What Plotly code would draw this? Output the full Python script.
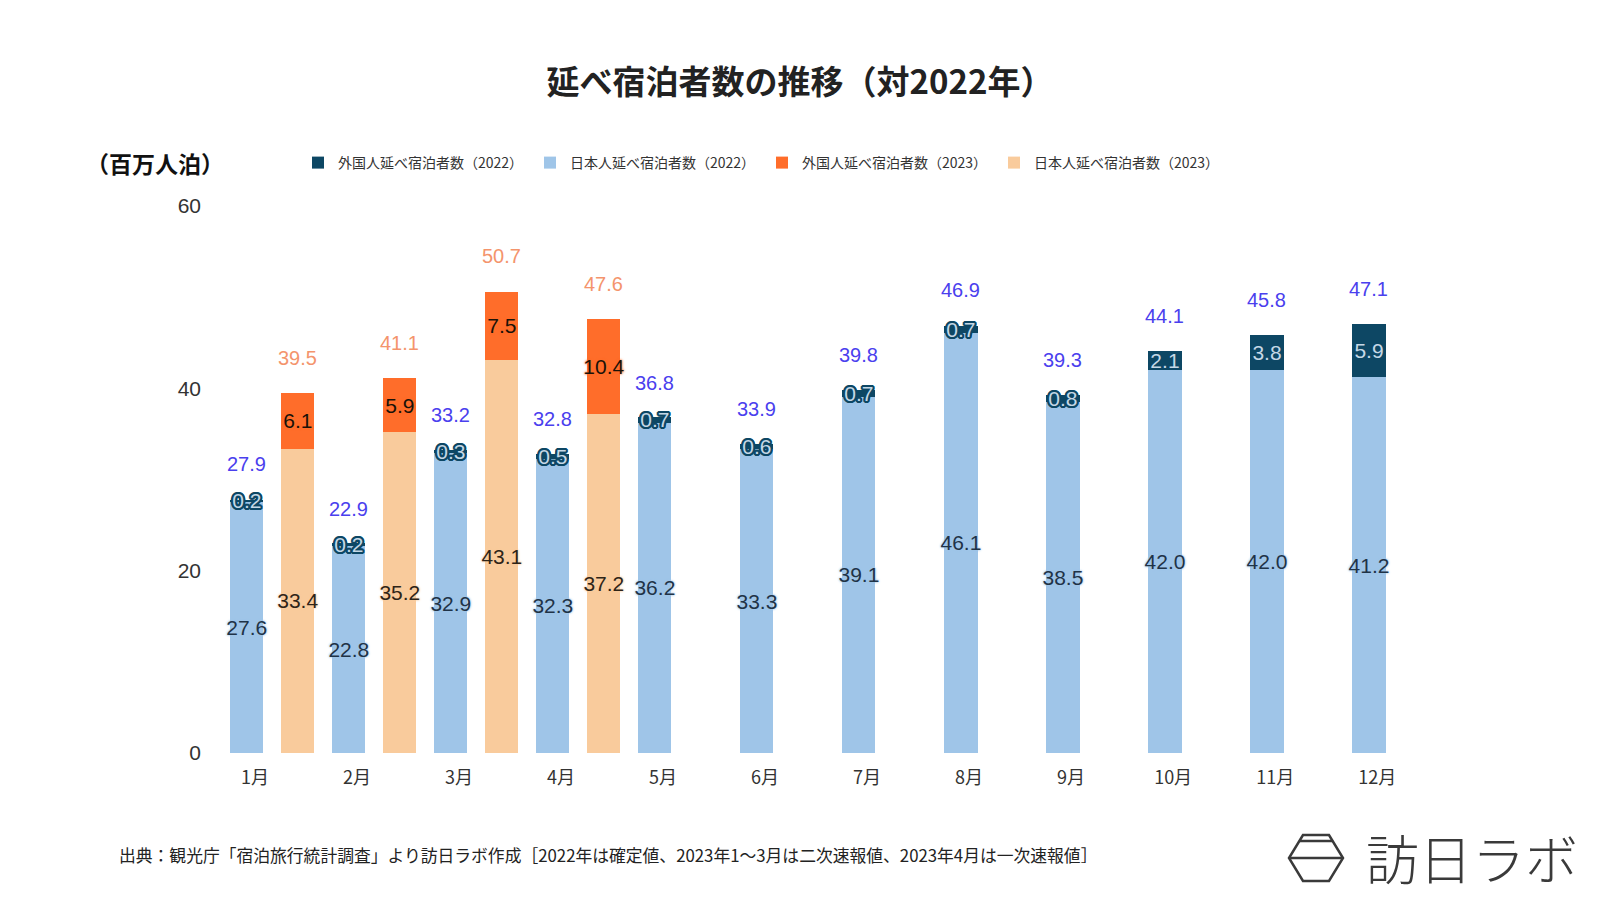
import numpy as np
import plotly.graph_objects as go

# ---------------- data ----------------
months = ["1月", "2月", "3月", "4月", "5月", "6月", "7月", "8月", "9月", "10月", "11月", "12月"]
jp_2022 = [27.6, 22.8, 32.9, 32.3, 36.2, 33.3, 39.1, 46.1, 38.5, 42.0, 42.0, 41.2]
fr_2022 = [0.2, 0.2, 0.3, 0.5, 0.7, 0.6, 0.7, 0.7, 0.8, 2.1, 3.8, 5.9]
total_2022 = [27.9, 22.9, 33.2, 32.8, 36.8, 33.9, 39.8, 46.9, 39.3, 44.1, 45.8, 47.1]
jp_2023 = [33.4, 35.2, 43.1, 37.2]
fr_2023 = [6.1, 5.9, 7.5, 10.4]
total_2023 = [39.5, 41.1, 50.7, 47.6]

names = ["外国人延べ宿泊者数（2022）", "日本人延べ宿泊者数（2022）",
         "外国人延べ宿泊者数（2023）", "日本人延べ宿泊者数（2023）"]
y_ticks = [0, 20, 40, 60]

title_text = "延べ宿泊者数の推移（対2022年）"
unit_text = "（百万人泊）"
source_text = "出典：観光庁「宿泊旅行統計調査」より訪日ラボ作成［2022年は確定値、2023年1～3月は二次速報値、2023年4月は一次速報値］"
logo_text = "訪日ラボ"

# ---------------- style ----------------
C_DARK = "#0d4764"
C_LBLUE = "#9fc5e8"
C_ORANGE = "#ff6d2a"
C_LORANGE = "#f9cb9c"
NUM_FONT = "Liberation Sans, Arial, sans-serif"
JP_FONT = "Noto Sans CJK JP, sans-serif"

W, H = 1600, 900
ML, MR, MT, MB = 206, 180, 206, 147
PW, PH = W - ML - MR, H - MT - MB


def px(x):
    return (x - ML) / PW


def py(y):
    return (H - MB - y) / PH


x22 = np.arange(1, len(months) + 1)
x23 = x22[:len(jp_2023)] + 0.5
bw = 0.325

outline = ", ".join(f"{a}px {b}px 0 {C_DARK}" for a, b in
                    [(-1, -1), (1, -1), (-1, 1), (1, 1), (0, 2), (0, -2), (2, 0), (-2, 0),
                     (2, 1), (-2, 1), (2, -1), (-2, -1), (1, 2), (-1, 2), (1, -2), (-1, -2)])

fig = go.Figure()
fig.add_trace(go.Bar(
    x=x22, y=jp_2022, width=bw, name=names[1], legendrank=2,
    marker=dict(color=C_LBLUE, line=dict(width=0)),
    text=[f"{v:.1f}" for v in jp_2022], textposition="inside", insidetextanchor="middle",
    constraintext="none", textangle=0,
    textfont=dict(family=NUM_FONT, size=21, color="#1f3347",
                  shadow=f"0 0 3px {C_LBLUE}, 0 0 2px {C_LBLUE}"),
))
fig.add_trace(go.Bar(
    x=x22, y=fr_2022, width=bw, name=names[0], legendrank=1,
    marker=dict(color=C_DARK, line=dict(width=0)),
    text=[f"{v:.1f}" for v in fr_2022], textposition="inside", insidetextanchor="middle",
    constraintext="none", textangle=0,
    textfont=dict(family=NUM_FONT, size=21, color="#c5d8e6", shadow=outline),
))
fig.add_trace(go.Bar(
    x=x23, y=jp_2023, width=bw, name=names[3], legendrank=4,
    marker=dict(color=C_LORANGE, line=dict(width=0)),
    text=[f"{v:.1f}" for v in jp_2023], textposition="inside", insidetextanchor="middle",
    constraintext="none", textangle=0,
    textfont=dict(family=NUM_FONT, size=21, color="#2e2418",
                  shadow=f"0 0 3px {C_LORANGE}, 0 0 2px {C_LORANGE}"),
))
fig.add_trace(go.Bar(
    x=x23, y=fr_2023, width=bw, name=names[2], legendrank=3,
    marker=dict(color=C_ORANGE, line=dict(width=0)),
    text=[f"{v:.1f}" for v in fr_2023], textposition="inside", insidetextanchor="middle",
    constraintext="none", textangle=0,
    textfont=dict(family=NUM_FONT, size=21, color="#1a1208",
                  shadow=f"0 0 3px {C_ORANGE}, 0 0 2px {C_ORANGE}"),
))

annotations = []
for xv, tv in zip(x22, total_2022):
    annotations.append(dict(x=xv, y=tv, xref="x", yref="y", text=f"{tv:.1f}", showarrow=False,
                            yshift=35, yanchor="middle",
                            font=dict(family=NUM_FONT, size=20, color="#4a40ee")))
for xv, tv in zip(x23, total_2023):
    annotations.append(dict(x=xv, y=tv, xref="x", yref="y", text=f"{tv:.1f}", showarrow=False,
                            yshift=35, yanchor="middle",
                            font=dict(family=NUM_FONT, size=20, color="#f4946c")))

annotations += [
    dict(x=px(226), y=py(163), xref="paper", yref="paper", xanchor="right", yanchor="middle",
         text=f"<b>{unit_text}</b>", showarrow=False,
         font=dict(family=JP_FONT, size=23, color="#111111")),
    dict(x=px(117), y=py(855), xref="paper", yref="paper", xanchor="left", yanchor="middle",
         text=source_text, showarrow=False,
         font=dict(family=JP_FONT, size=16.8, color="#222222")),
    dict(x=px(1364), y=py(857), xref="paper", yref="paper", xanchor="left", yanchor="middle",
         text=logo_text, showarrow=False,
         font=dict(family=JP_FONT, size=53, color="#3a3a3a", weight=200)),
]

# logo icon (hexagon)
hexpts = [(1303, 835), (1329, 835), (1343, 858), (1329, 881), (1303, 881), (1289, 858)]
path = "M " + " L ".join(f"{px(a):.5f},{py(b):.5f}" for a, b in hexpts) + " Z"
shapes = [
    dict(type="path", path=path, xref="paper", yref="paper",
         line=dict(color="#3a3a3a", width=2.5)),
    dict(type="line", x0=px(1289), x1=px(1343), y0=py(858), y1=py(858), xref="paper", yref="paper",
         line=dict(color="#3a3a3a", width=2.5)),
    dict(type="line", x0=px(1300), x1=px(1332), y0=py(841), y1=py(841), xref="paper", yref="paper",
         line=dict(color="#3a3a3a", width=2.5)),
]

fig.update_layout(
    width=W, height=H,
    margin=dict(l=ML, r=MR, t=MT, b=MB, autoexpand=False),
    paper_bgcolor="white", plot_bgcolor="white",
    barmode="stack",
    title=dict(text=f"<b>{title_text}</b>", x=0.5, xref="container", xanchor="center",
               y=1 - 82 / H, yref="container", yanchor="middle",
               font=dict(family=JP_FONT, size=33, color="#222222")),
    xaxis=dict(range=[0.6, 12.5], tickvals=x22 + 0.08, ticktext=months, showgrid=False,
               zeroline=False, showline=False, ticks="", ticklabelstandoff=12,
               tickfont=dict(family=JP_FONT, size=18, color="#333333")),
    yaxis=dict(range=[0, 60], tickvals=y_ticks, showgrid=False, zeroline=False, showline=False,
               ticks="", ticklabelstandoff=4,
               tickfont=dict(family=NUM_FONT, size=21, color="#333333")),
    legend=dict(orientation="h", x=298 / W, xref="container", xanchor="left",
                y=1 - 163 / H, yref="container", yanchor="middle",
                entrywidth=187, entrywidthmode="pixels", traceorder="normal",
                font=dict(family=JP_FONT, size=14, color="#333333"), bgcolor="rgba(0,0,0,0)"),
    annotations=annotations, shapes=shapes,
    showlegend=True,
)

fig.write_html("out.html", config={"displayModeBar": False},
               post_script="document.body.style.margin='0';document.body.style.overflow='hidden';")
